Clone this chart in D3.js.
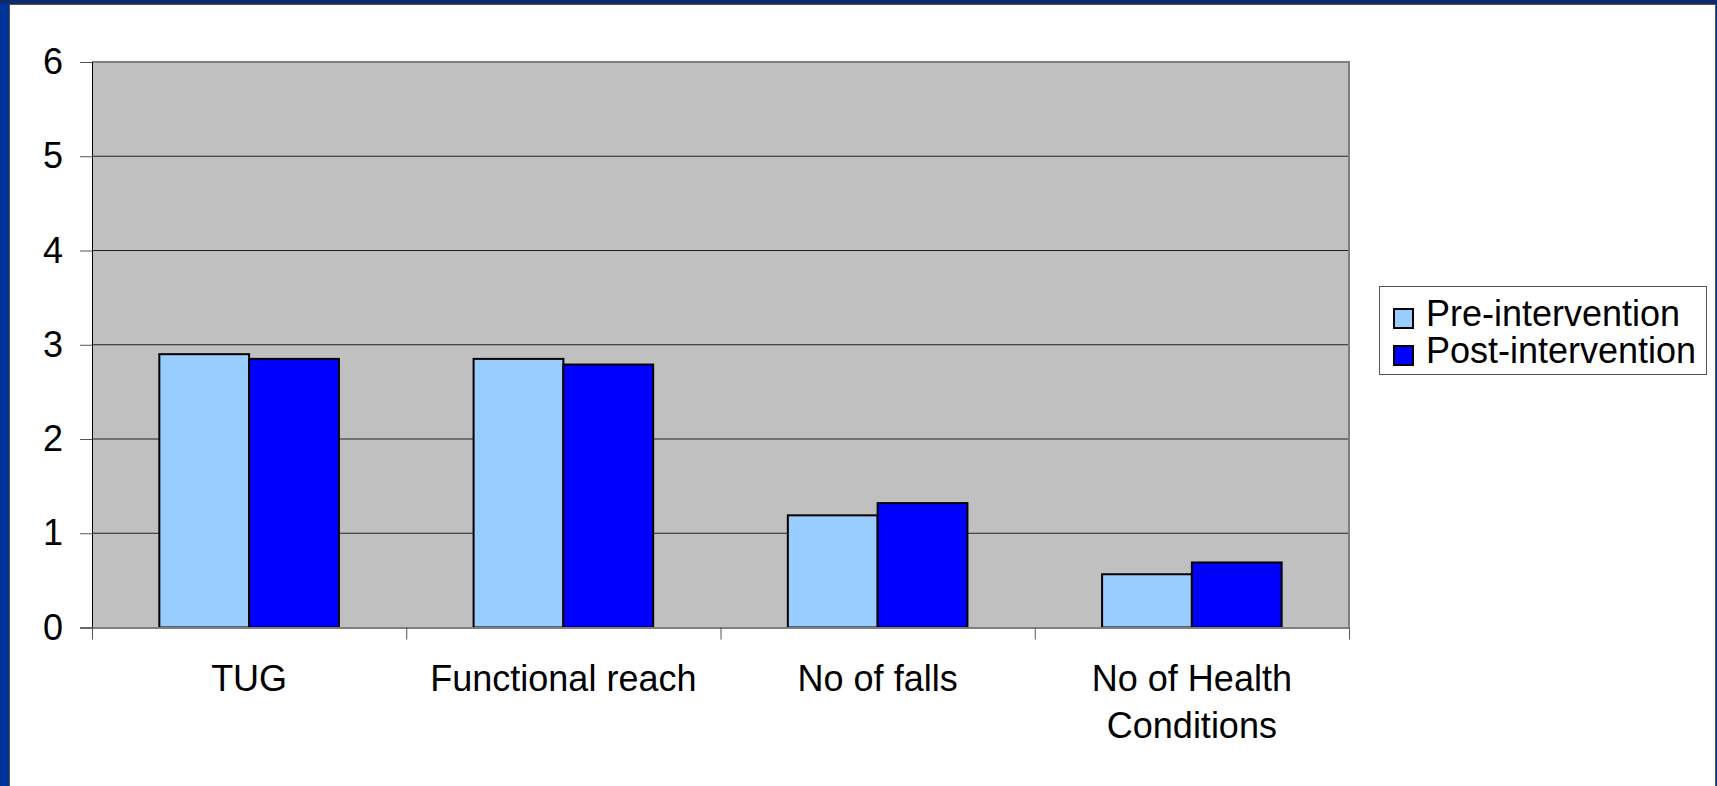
<!DOCTYPE html>
<html>
<head>
<meta charset="utf-8">
<script src="https://cdn.jsdelivr.net/npm/d3@7"></script>
<style>
  body { margin: 0; background: #003399; overflow: hidden; }
  svg { display: block; font-family: "Liberation Sans", Arial, sans-serif; }
</style>
</head>
<body>
<svg id="chart" width="1717" height="786"></svg>
<script>
// chart data
var categories = ["TUG", "Functional reach", "No of falls", "No of Health Conditions"];
var categoryLines = [["TUG"], ["Functional reach"], ["No of falls"], ["No of Health", "Conditions"]];
var seriesNames = ["Pre-intervention", "Post-intervention"];
var preValues = [2.90, 2.85, 1.19, 0.565];
var postValues = [2.85, 2.79, 1.32, 0.69];
var yTicks = [0, 1, 2, 3, 4, 5, 6];
var seriesColors = ["#99CCFF", "#0000FF"];

var chart = {};
chart.svg = d3.select("#chart");
chart.plot = { left: 92, right: 1349, top: 62, bottom: 627.5 };
chart.fontSize = "36px";

// blue slide frame and white panel
chart.svg.append("rect")
    .attr("x", 0).attr("y", 0).attr("width", 1717).attr("height", 4)
    .attr("fill", "#0c2a6c");
chart.svg.append("rect")
    .attr("x", 9.5).attr("y", 4.5).attr("width", 1706).attr("height", 790)
    .attr("fill", "#ffffff")
    .attr("stroke", "#555555").attr("stroke-width", 1);

chart.x0 = d3.scaleBand().domain(categories).range([chart.plot.left, chart.plot.right]);
chart.x1 = d3.scaleBand().domain(seriesNames).range([0, chart.x0.bandwidth()]).paddingOuter(0.75);
chart.y = d3.scaleLinear().domain([0, 6]).range([chart.plot.bottom, chart.plot.top]);
chart.edges = d3.scaleLinear().domain([0, categories.length]).range([chart.plot.left, chart.plot.right]);

// plot area
chart.svg.append("rect")
    .attr("x", chart.plot.left).attr("y", chart.plot.top)
    .attr("width", chart.plot.right - chart.plot.left)
    .attr("height", chart.plot.bottom - chart.plot.top)
    .attr("fill", "#C0C0C0");

// gridlines
chart.svg.append("g")
    .selectAll("line")
    .data(yTicks.filter(function(d) { return d > 0 && d < 6; }))
    .enter().append("line")
    .attr("x1", chart.plot.left).attr("x2", chart.plot.right)
    .attr("y1", function(d) { return chart.y(d); })
    .attr("y2", function(d) { return chart.y(d); })
    .attr("stroke", "#222222").attr("stroke-width", 1);

// plot border (top and right)
chart.svg.append("path")
    .attr("d", "M" + chart.plot.left + "," + chart.y(6) + "H" + chart.plot.right + "V" + chart.plot.bottom)
    .attr("fill", "none").attr("stroke", "#808080").attr("stroke-width", 2);

// bars
var rows = categories.map(function(c, i) {
    return { cat: c, values: [preValues[i], postValues[i]] };
});

var groups = chart.svg.append("g")
    .selectAll("g")
    .data(rows)
    .enter().append("g")
    .attr("transform", function(d) { return "translate(" + chart.x0(d.cat) + ",0)"; });

groups.selectAll("rect")
    .data(function(d) { return d.values.map(function(v, j) { return { s: seriesNames[j], v: v, j: j }; }); })
    .enter().append("rect")
    .attr("x", function(d) { return chart.x1(d.s); })
    .attr("width", chart.x1.bandwidth())
    .attr("y", function(d) { return chart.y(d.v); })
    .attr("height", function(d) { return chart.y(0) - chart.y(d.v); })
    .attr("fill", function(d) { return seriesColors[d.j]; })
    .attr("stroke", "#000000")
    .attr("stroke-width", 2);

// y axis
chart.yAxis = chart.svg.append("g")
    .attr("transform", "translate(" + chart.plot.left + ",0)")
    .call(d3.axisLeft(chart.y).tickValues(yTicks).tickFormat(d3.format("d")).tickSize(12).tickPadding(17));
chart.yAxis.select(".domain").attr("stroke", "#000000");
chart.yAxis.selectAll(".tick line").attr("stroke", "#555555");
chart.yAxis.selectAll("text")
    .attr("font-size", chart.fontSize)
    .attr("font-family", "Liberation Sans, Arial, sans-serif")
    .attr("fill", "#000000");

// x axis: boundary ticks
chart.xAxis = chart.svg.append("g")
    .attr("transform", "translate(0," + chart.plot.bottom + ")")
    .call(d3.axisBottom(chart.edges).ticks(categories.length).tickFormat("").tickSize(12).tickSizeOuter(0));
chart.xAxis.select(".domain").attr("stroke", "#808080").attr("stroke-width", 2);
chart.xAxis.selectAll(".tick line").attr("stroke", "#555555");

// category labels
var labels = chart.svg.append("g")
    .selectAll("text")
    .data(categories)
    .enter().append("text")
    .attr("x", function(d) { return chart.x0(d) + chart.x0.bandwidth() / 2; })
    .attr("y", 691)
    .attr("text-anchor", "middle")
    .attr("font-size", chart.fontSize)
    .attr("fill", "#000000");

labels.each(function(d, i) {
    var t = d3.select(this);
    categoryLines[i].forEach(function(line, k) {
        t.append("tspan")
            .attr("x", chart.x0(d) + chart.x0.bandwidth() / 2)
            .attr("dy", k === 0 ? 0 : 47)
            .text(line);
    });
});

// legend
chart.legend = chart.svg.append("g").attr("transform", "translate(1379,286)");
chart.legend.append("rect")
    .attr("x", 0.5).attr("y", 0.5).attr("width", 327).attr("height", 88)
    .attr("fill", "#ffffff").attr("stroke", "#555555").attr("stroke-width", 1);

var items = chart.legend.selectAll("g.item")
    .data(seriesNames)
    .enter().append("g")
    .attr("class", "item")
    .attr("transform", function(d, i) { return "translate(0," + (i * 37) + ")"; });

items.append("rect")
    .attr("x", 15).attr("y", 23).attr("width", 19).attr("height", 19)
    .attr("fill", function(d, i) { return seriesColors[i]; })
    .attr("stroke", "#000000").attr("stroke-width", 2);

items.append("text")
    .attr("x", 47).attr("y", 40)
    .attr("font-size", chart.fontSize)
    .attr("fill", "#000000")
    .text(function(d) { return d; });
</script>
</body>
</html>
